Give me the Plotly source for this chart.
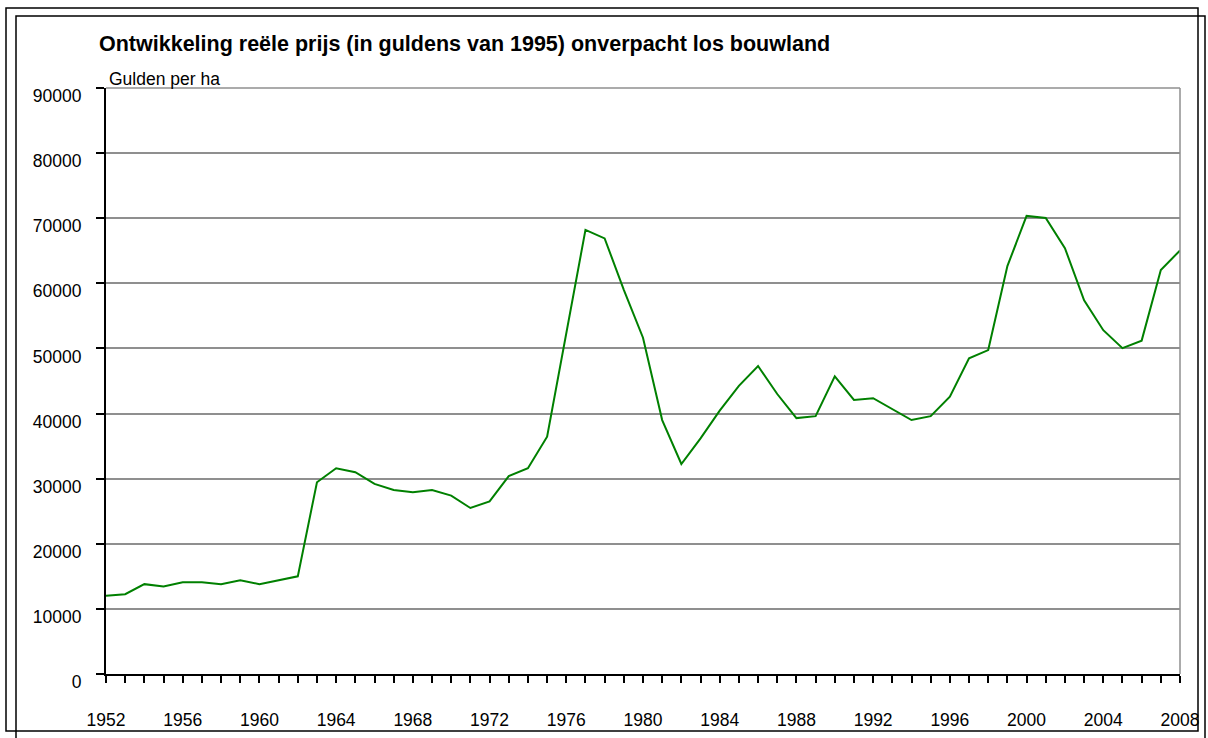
import plotly.graph_objects as go

years = list(range(1952, 2009))
prices = [
    12000, 12250, 13800, 13450, 14100, 14100, 13800, 14400, 13800, 14450,
    15000, 29450, 31600, 31000, 29200, 28250, 27900, 28250, 27400, 25500,
    26500, 30400, 31600, 36450, 52500, 68200, 66900, 59000, 51650, 39000,
    32250, 36200, 40450, 44250, 47300, 43000, 39300, 39600, 45700, 42100,
    42350, 40650, 39000, 39600, 42600, 48500, 49750, 62650, 70350, 70050,
    65400, 57400, 52800, 50050, 51200, 62050, 65050,
]
x_labels = [str(y) if (y - 1952) % 4 == 0 else "" for y in years]
y_ticks = list(range(0, 90001, 10000))

W, H = 1208, 738
L, R, T, B = 106, 1180, 88, 674
FONT = "Liberation Sans, Arial, sans-serif"
GRID = "#8f8f8f"


def px(x):
    return (x - L) / (R - L)


def py(y):
    return (B - y) / (B - T)


def frame(x0, y0, x1, y1):
    return dict(type="rect", xref="paper", yref="paper",
                x0=px(x0), x1=px(x1), y0=py(y1), y1=py(y0),
                line=dict(color="black", width=1.5), fillcolor="rgba(0,0,0,0)")


fig = go.Figure(go.Scatter(
    x=years, y=prices, mode="lines",
    line=dict(color="#008000", width=2),
))

fig.update_layout(
    width=W, height=H,
    margin=dict(l=L, r=W - R, t=T, b=H - B),
    plot_bgcolor="white",
    paper_bgcolor="white",
    showlegend=False,
    font=dict(family=FONT, size=17.5, color="black"),
    title=dict(
        text="Ontwikkeling reële prijs (in guldens van 1995) onverpacht los bouwland",
        font=dict(family=FONT, size=21.5, weight="bold", color="black"),
        xref="container", yref="container",
        x=99 / W, xanchor="left", y=(H - 43) / H, yanchor="middle",
    ),
    xaxis=dict(
        range=[1952, 2008], tickmode="array", tickvals=years, ticktext=x_labels,
        showgrid=False, zeroline=False, showline=True, linecolor="black", linewidth=2,
        ticks="outside", ticklen=7, tickwidth=2, tickcolor="black",
        ticklabelstandoff=22, automargin=False,
    ),
    yaxis=dict(
        range=[0, 90000], tickmode="array", tickvals=y_ticks, tickformat="d",
        showgrid=True, gridcolor=GRID, gridwidth=1.5, zeroline=False,
        showline=True, linecolor="black", linewidth=2,
        ticks="outside", ticklen=8, tickwidth=2, tickcolor="black",
        ticklabelstandoff=11, ticklabelshift=8, automargin=False,
    ),
    annotations=[dict(
        text="Gulden per ha", xref="paper", yref="paper",
        x=px(107), y=1, xanchor="left", yanchor="bottom", yshift=-3, showarrow=False,
        font=dict(family=FONT, size=17.5, color="black"),
    )],
    shapes=[
        dict(type="line", xref="paper", yref="paper", x0=1, x1=1, y0=0, y1=1,
             line=dict(color=GRID, width=1.5)),
        dict(type="line", xref="paper", yref="paper", x0=0, x1=1, y0=1, y1=1,
             line=dict(color=GRID, width=1.5)),
        frame(6, 8, 1198, 731),
        frame(16, 16, 1205, 748),
    ],
)

fig.write_html(
    "out.html",
    config=dict(displayModeBar=False),
    post_script="document.body.style.margin='0';document.body.style.overflow='hidden';",
)
